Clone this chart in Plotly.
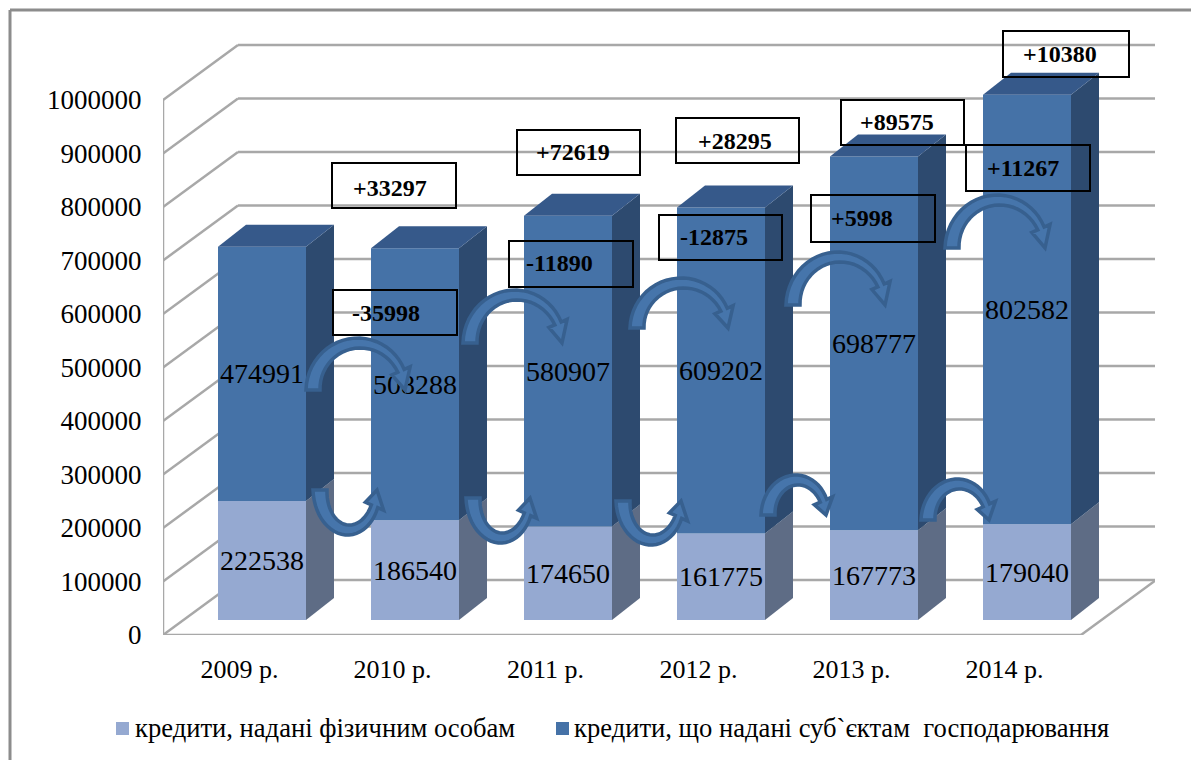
import math
import plotly.graph_objects as go

# ---------- data ----------
categories = ["2009 р.", "2010 р.", "2011 р.", "2012 р.", "2013 р.", "2014 р."]
individuals = [222538, 186540, 174650, 161775, 167773, 179040]
businesses = [474991, 508288, 580907, 609202, 698777, 802582]
name_individuals = "кредити, надані фізичним особам"
name_businesses = "кредити, що надані суб`єктам  господарювання"
y_ticks = [0, 100000, 200000, 300000, 400000, 500000, 600000, 700000, 800000, 900000, 1000000]
# change call-outs: text, box left/top/right/bottom, text centre (pixels)
callouts = [
    ("+33297", 332, 163, 456, 208, 390, 188),
    ("+72619", 517, 130, 640, 175, 573, 152),
    ("+28295", 676, 118, 799, 163, 735, 141),
    ("+89575", 841, 100, 964, 145, 897, 122),
    ("+10380", 1003, 31, 1129, 77, 1060, 54),
    ("+11267", 966, 145, 1090, 191, 1023, 168),
    ("+5998", 811, 195, 935, 242, 862, 218),
    ("-12875", 659, 215, 782, 260, 714, 237),
    ("-11890", 509, 241, 633, 287, 559, 263),
    ("-35998", 333, 290, 457, 335, 386, 313),
]
# curved arrows: foot x, foot y, apex y, tip x (pixels)
arrows = [
    (313, 390, 343, 405),
    (470, 343, 295, 562),
    (637, 328, 283, 728),
    (793, 305, 257, 885),
    (952, 248, 200, 1045),
    (320, 490, 530, 377),
    (473, 498, 538, 530),
    (623, 501, 540, 681),
    (768, 515, 480, 826),
    (928, 520, 484, 989),
]

# ---------- styles ----------
W, H = 1191, 760
L, R, T, B = 163, 1155, 10, 635
PX_PER_UNIT = 535 / 1_000_000
PX_PER_CAT = 153
X0 = -0.5
X1 = X0 + (R - L) / PX_PER_CAT
WALL_DX = 75 / PX_PER_CAT
WALL_DY = 55 / PX_PER_UNIT
BAR_DX = 28 / PX_PER_CAT
BAR_DY = 22 / PX_PER_UNIT
BAR_W = 88 / PX_PER_CAT
BAR_OFF = -21.5 / PX_PER_CAT
BAR_BASE = 15 / PX_PER_UNIT
FONT = "Liberation Serif"
LIGHT, LIGHT_SIDE = "#95A9D1", "#5E6C85"
DARK, DARK_SIDE, DARK_TOP = "#4572A7", "#2D4A6F", "#36598A"
GRID = "#A8A8A8"
INK = "#000000"


def px(p):
    return (p - L) / (R - L)


def py(p):
    return (B - p) / (B - T)


def arrow_path(fx, fy, ay, tx):
    cx = (fx + tx) / 2
    rx = (tx - fx) / 2
    ry = fy - ay
    t_end = 0.42
    n = 24
    outer, inner = [], []
    for i in range(n + 1):
        f = i / n
        t = math.pi + (t_end - math.pi) * f
        half = 7 - 3.5 * f
        x = cx + rx * math.cos(t)
        y = fy - ry * math.sin(t)
        nx, ny = math.cos(t), -math.sin(t) * (1 if ry > 0 else -1)
        outer.append((x + nx * half, y + ny * half))
        inner.append((x - nx * half, y - ny * half))
    bx = cx + rx * math.cos(t_end)
    by = fy - ry * math.sin(t_end)
    nx, ny = math.cos(t_end), -math.sin(t_end) * (1 if ry > 0 else -1)
    head = 10
    pts = outer + [(bx + nx * head, by + ny * head), (tx, fy), (bx - nx * head, by - ny * head)] + inner[::-1]
    return "M" + "L".join(f"{px(a):.5f},{py(b):.5f}" for a, b in pts) + "Z"


fig = go.Figure()

xs = list(range(len(categories)))
base_hi = [BAR_BASE + v for v in individuals]

fig.add_trace(go.Bar(
    x=xs, y=individuals, base=[BAR_BASE] * len(xs), width=BAR_W, offset=BAR_OFF,
    name=name_individuals, marker=dict(color=LIGHT, line=dict(width=0)),
    text=[str(v) for v in individuals], textposition="inside", insidetextanchor="middle",
    textangle=0, constraintext="none",
    textfont=dict(family=FONT, size=28, color=INK), showlegend=False, hoverinfo="x+y",
))
fig.add_trace(go.Bar(
    x=xs, y=businesses, base=base_hi, width=BAR_W, offset=BAR_OFF,
    name=name_businesses, marker=dict(color=DARK, line=dict(width=0)),
    text=[str(v) for v in businesses], textposition="inside", insidetextanchor="middle",
    textangle=0, constraintext="none",
    textfont=dict(family=FONT, size=28, color=INK), showlegend=False, hoverinfo="x+y",
))


def face(xv, yv, color):
    fig.add_trace(go.Scatter(
        x=xv, y=yv, mode="lines", fill="toself", fillcolor=color,
        line=dict(width=0, color=color), hoverinfo="skip", showlegend=False,
    ))


for i in xs:
    xr = i + BAR_OFF + BAR_W
    xl = i + BAR_OFF
    y0 = BAR_BASE
    y1 = base_hi[i]
    y2 = y1 + businesses[i]
    face([xr, xr + BAR_DX, xr + BAR_DX, xr, xr], [y0, y0 + BAR_DY, y1 + BAR_DY, y1, y0], LIGHT_SIDE)
    face([xr, xr + BAR_DX, xr + BAR_DX, xr, xr], [y1, y1 + BAR_DY, y2 + BAR_DY, y2, y1], DARK_SIDE)
    face([xl, xl + BAR_DX, xr + BAR_DX, xr, xl], [y2, y2 + BAR_DY, y2 + BAR_DY, y2, y2], DARK_TOP)

shapes = []


def seg(x0, y0, x1, y1, layer="below", width=2.5, color=GRID):
    shapes.append(dict(type="line", xref="x", yref="y", x0=x0, y0=y0, x1=x1, y1=y1,
                       layer=layer, line=dict(color=color, width=width)))


for v in y_ticks:
    seg(X0, v, X0 + WALL_DX, v + WALL_DY)
    seg(X0 + WALL_DX, v + WALL_DY, X1, v + WALL_DY)
seg(X0, 0, X0, y_ticks[-1])
seg(X0, 0, 5.5, 0)
seg(5.5, 0, 5.5 + WALL_DX, WALL_DY)

# outer frame
for a, b, c, d in [(10, 10, W + 5, 10), (10, 10, 10, H + 5)]:
    shapes.append(dict(type="line", xref="paper", yref="paper", x0=px(a), y0=py(b), x1=px(c), y1=py(d),
                       layer="below", line=dict(color="#8C8C8C", width=3)))

# curved arrows
for fx, fy, ay, tx in arrows:
    shapes.append(dict(type="path", xref="paper", yref="paper", path=arrow_path(fx, fy, ay, tx),
                       layer="above", fillcolor="#4675AB", line=dict(color="#37608F", width=3.5)))

annotations = []
for text, x0, y0, x1, y1, tcx, tcy in callouts:
    shapes.append(dict(type="rect", xref="paper", yref="paper", x0=px(x0), y0=py(y0), x1=px(x1), y1=py(y1),
                       layer="above", line=dict(color=INK, width=2), fillcolor="rgba(0,0,0,0)"))
    annotations.append(dict(text=f"<b>{text}</b>", xref="paper", yref="paper", x=px(tcx), y=py(tcy),
                            showarrow=False, xanchor="center", yanchor="middle",
                            font=dict(family=FONT, size=24, color=INK)))

# legend
for sx, color, name, tx in [(116, LIGHT, name_individuals, 133), (556, DARK, name_businesses, 572)]:
    shapes.append(dict(type="rect", xref="paper", yref="paper", x0=px(sx), y0=py(722), x1=px(sx + 13), y1=py(735),
                       line=dict(width=0), fillcolor=color))
    annotations.append(dict(text=name.replace("  ", "\u00a0 "), xref="paper", yref="paper", x=px(tx), y=py(728),
                            showarrow=False, xanchor="left", yanchor="middle",
                            font=dict(family=FONT, size=26.6, color=INK)))

fig.update_layout(
    width=W, height=H, margin=dict(l=L, r=W - R, t=T, b=H - B, pad=0), autosize=False,
    paper_bgcolor="white", plot_bgcolor="rgba(0,0,0,0)", barmode="overlay",
    showlegend=False, shapes=shapes, annotations=annotations,
    font=dict(family=FONT, color=INK),
    xaxis=dict(range=[X0, X1], tickmode="array", tickvals=xs, ticktext=categories, showgrid=False,
               zeroline=False, showline=False, ticks="outside", ticklen=11, tickcolor="rgba(0,0,0,0)",
               tickfont=dict(family=FONT, size=26, color=INK)),
    yaxis=dict(range=[0, (B - T) / PX_PER_UNIT], tickmode="array", tickvals=y_ticks, showgrid=False,
               ticktext=[str(v) for v in y_ticks], zeroline=False, showline=False, ticks="outside",
               ticklen=15, tickcolor="rgba(0,0,0,0)", tickfont=dict(family=FONT, size=27, color=INK)),
)

fig.write_html("out.html", config={"displayModeBar": False},
               post_script="document.body.style.margin='0';document.documentElement.style.overflow='hidden';")
